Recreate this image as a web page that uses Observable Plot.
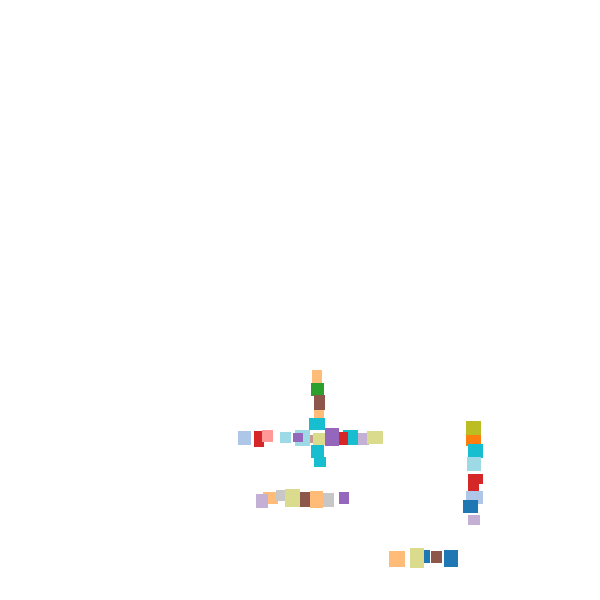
<!DOCTYPE html>
<html>
<head>
<meta charset="utf-8">
<script src="https://cdn.jsdelivr.net/npm/d3@7"></script>
<script src="https://cdn.jsdelivr.net/npm/@observablehq/plot@0.6"></script>
<style>
  html, body { margin: 0; padding: 0; background: #fff; }
  #chart svg { display: block; }
</style>
</head>
<body>
<div id="chart"></div>
<script>
// Category keys (d3 category20 order)
const categories = ["c0","c1","c2","c3","c4","c5","c6","c7","c8","c9","c10","c11","c12","c13","c14","c15","c16","c17","c18","c19"];
const palette = ["#1f77b4","#aec7e8","#ff7f0e","#ffbb78","#2ca02c","#98df8a","#d62728","#ff9896","#9467bd","#c5b0d5","#8c564b","#c49c94","#e377c2","#f7b6d2","#7f7f7f","#c7c7c7","#bcbd22","#dbdb8d","#17becf","#9edae5"];

// Each cell: left, right, top, bottom extent and its category (draw order)
const x1s = [312,311,314,314,309, 238,254,262,280,310,295,293,313,311,314,325,343,339,358,367, 263,256,276,285,300,310,323,339, 466,466,468,467,468,468,466,463,468, 389,410,424,431,444];
const x2s = [322,324,325,324,325, 251,264,273,291,313,310,303,326,324,326,339,358,348,369,383, 278,268,286,300,314,323,334,349, 481,481,483,481,483,479,483,478,480, 405,424,430,442,458];
const y1s = [370,383,395,410,418, 431,431,430,432,435,430,433,433,445,457,428,430,432,433,431, 492,494,490,489,492,491,493,492, 421,435,444,457,474,474,491,500,515, 551,548,550,551,550];
const y2s = [383,396,410,418,430, 445,447,442,443,443,446,442,445,458,467,446,445,445,445,444, 504,508,501,507,507,508,507,504, 435,446,458,471,484,492,504,513,525, 567,568,563,563,567];
const groups = ["c3","c4","c10","c3","c18", "c1","c6","c7","c19","c11","c19","c8","c17","c18","c18","c8","c18","c6","c9","c17", "c3","c9","c15","c17","c10","c3","c15","c8", "c16","c2","c18","c19","c6","c6","c1","c0","c9", "c3","c17","c0","c10","c0"];

const data = groups.map((g, i) => ({x1: x1s[i], x2: x2s[i], y1: y1s[i], y2: y2s[i], g}));

const chart = Plot.plot({
  width: 600,
  height: 600,
  margin: 0,
  x: {domain: [0, 600], axis: null},
  y: {domain: [0, 600], range: [0, 600], axis: null},
  color: {type: "ordinal", domain: categories, range: palette},
  marks: [
    Plot.rect(data, {x1: "x1", x2: "x2", y1: "y1", y2: "y2", fill: "g"})
  ]
});
document.getElementById("chart").appendChild(chart);
</script>
</body>
</html>
